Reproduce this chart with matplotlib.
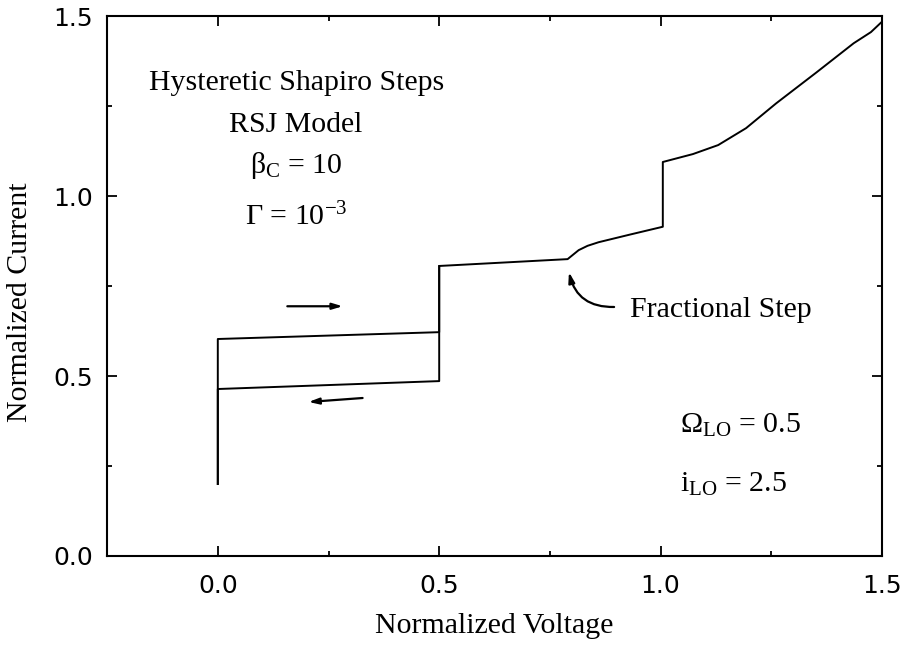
import matplotlib.pyplot as plt
from matplotlib.ticker import MultipleLocator

# ── 1. Datos de la curva I-V ─────────────────────────────────────────────────
# barrido de subida (corriente creciente)
volt_up = [0.0, 0.0, 0.5, 0.5, 0.79, 0.80, 0.815, 0.835, 0.86, 0.93, 1.005,
           1.005, 1.073, 1.13, 1.193, 1.261, 1.352, 1.436, 1.475, 1.5]
curr_up = [0.2, 0.603, 0.622, 0.806, 0.825, 0.835, 0.85, 0.862, 0.872, 0.893,
           0.915, 1.095, 1.117, 1.142, 1.189, 1.258, 1.344, 1.425, 1.456, 1.485]

# barrido de bajada (rama histeretica)
volt_down = [0.5, 0.5, 0.0, 0.0]
curr_down = [0.806, 0.486, 0.464, 0.2]

# flechas de sentido del barrido: (x inicio, y inicio, x fin, y fin)
arrow_up   = (0.157, 0.694, 0.282, 0.694)
arrow_down = (0.327, 0.439, 0.205, 0.428)

# paso fraccional
frac_tip  = (0.793, 0.789)
frac_tail = (0.895, 0.692)

# ── 2. Estilo ────────────────────────────────────────────────────────────────
plt.rcParams["mathtext.fontset"] = "custom"
plt.rcParams["mathtext.rm"] = "Liberation Serif"
plt.rcParams["mathtext.it"] = "Liberation Serif:italic"

SERIF = "Liberation Serif"
TXT = 21.5

fig = plt.figure(figsize=(9, 6.51), dpi=100)
ax = fig.add_axes([0.119, 0.146, 0.861, 0.829])

# ── 3. Curvas ────────────────────────────────────────────────────────────────
ax.plot(volt_up, curr_up, color="black", linewidth=1.4)
ax.plot(volt_down, curr_down, color="black", linewidth=1.4)

for x0, y0, x1, y1 in (arrow_up, arrow_down):
    ax.annotate("", xy=(x1, y1), xytext=(x0, y0),
                arrowprops=dict(arrowstyle="-|>,head_length=0.6,head_width=0.18",
                                color="black", lw=1.6, shrinkA=0, shrinkB=0))

ax.annotate("", xy=frac_tip, xytext=frac_tail,
            arrowprops=dict(arrowstyle="-|>,head_length=0.6,head_width=0.18",
                            color="black", lw=1.6, shrinkA=0, shrinkB=0,
                            connectionstyle="arc3,rad=-0.4"))

# ── 4. Textos ────────────────────────────────────────────────────────────────
ax.text(0.177, 1.294, "Hysteretic Shapiro Steps", ha="center", va="baseline",
        family=SERIF, fontsize=TXT)
ax.text(0.177, 1.178, "RSJ Model", ha="center", va="baseline",
        family=SERIF, fontsize=TXT)
ax.text(0.177, 1.064, r"β$_\mathrm{C}$ = 10", ha="center", va="baseline",
        family=SERIF, fontsize=TXT)
ax.text(0.177, 0.919, r"Γ = 10$^\mathrm{-3}$", ha="center", va="baseline",
        family=SERIF, fontsize=TXT)

ax.text(0.932, 0.664, "Fractional Step", ha="left", va="baseline",
        family=SERIF, fontsize=TXT)

ax.text(1.043, 0.342, r"Ω$_\mathrm{LO}$ = 0.5", ha="left", va="baseline",
        family=SERIF, fontsize=TXT)
ax.text(1.043, 0.178, r"i$_\mathrm{LO}$ = 2.5", ha="left", va="baseline",
        family=SERIF, fontsize=TXT)

# ── 5. Ejes ──────────────────────────────────────────────────────────────────
ax.set_xlim(-0.25, 1.5)
ax.set_ylim(0.0, 1.5)
ax.xaxis.set_major_locator(MultipleLocator(0.5))
ax.xaxis.set_minor_locator(MultipleLocator(0.25))
ax.yaxis.set_major_locator(MultipleLocator(0.5))
ax.yaxis.set_minor_locator(MultipleLocator(0.25))
ax.xaxis.set_major_formatter(lambda v, p: f"{v:.1f}")
ax.yaxis.set_major_formatter(lambda v, p: f"{v:.1f}")

ax.tick_params(which="both", direction="in", top=True, right=True, width=1.3)
ax.tick_params(which="major", length=7)
ax.tick_params(which="minor", length=3.5)
ax.tick_params(axis="x", which="major", pad=13, labelsize=18)
ax.tick_params(axis="y", which="major", pad=10, labelsize=18)
for lab in ax.get_xticklabels() + ax.get_yticklabels():
    lab.set_family("DejaVu Sans")

for sp in ax.spines.values():
    sp.set_linewidth(1.5)

ax.set_xlabel("Normalized Voltage", family=SERIF, fontsize=TXT, labelpad=11)
ax.set_ylabel("Normalized Current", family=SERIF, fontsize=TXT)
ax.yaxis.set_label_coords(-0.0955, 0.47)

plt.savefig("out.png", dpi=100)
plt.close()
